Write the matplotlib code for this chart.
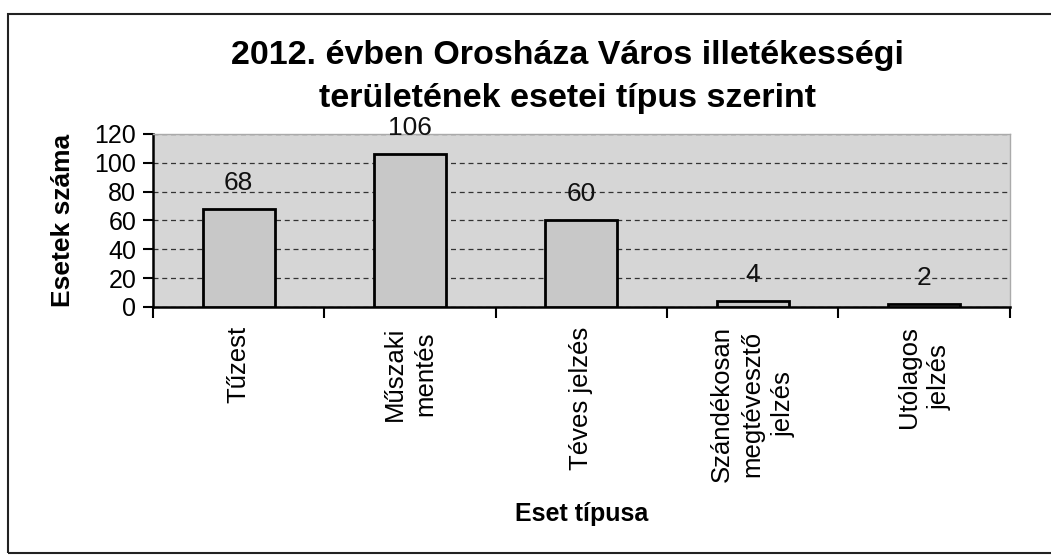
import matplotlib.pyplot as plt
from matplotlib.patches import Rectangle

plt.rcParams['font.family'] = ['Liberation Sans', 'DejaVu Sans']

categories = ["Tűzest", "Műszaki\nmentés", "Téves jelzés",
              "Szándékosan\nmegtévesztő\njelzés", "Utólagos\njelzés"]
values = [68, 106, 60, 4, 2]
yticks = [0, 20, 40, 60, 80, 100, 120]

fig = plt.figure(figsize=(10.51, 5.58), dpi=100)
# outer frame of the chart
fig.patches.append(Rectangle((0.008, 0.009), 1.1, 0.966, transform=fig.transFigure,
                             fill=False, edgecolor='#222222', linewidth=1.5))

ax = fig.add_axes([0.1456, 0.45, 0.815, 0.31])
ax.set_facecolor('#d6d6d6')

x = list(range(len(values)))
bars = ax.bar(x, values, width=0.42, color='#c8c8c8', edgecolor='black', linewidth=2, zorder=3)

for xi, v in zip(x, values):
    ax.text(xi, v + 18, str(v), ha='center', va='center', fontsize=19, color='#111111', zorder=4)

ax.set_xlim(-0.5, len(values) - 0.5)
ax.set_ylim(0, 120)
ax.set_yticks(yticks)
ax.set_yticklabels([str(t) for t in yticks], fontsize=18)
ax.yaxis.grid(True, color='#333333', linestyle=(0, (4, 3)), linewidth=0.9, zorder=1)

ax.set_xticks(x)
ax.set_xticklabels(categories, rotation=90, fontsize=18.5, multialignment='center',
                   va='top', linespacing=1.35)
ax.set_xticks([i - 0.5 for i in range(len(values) + 1)], minor=True)
ax.tick_params(axis='x', which='major', length=0, pad=14)
ax.tick_params(axis='x', which='minor', length=8, width=1.5, direction='out')
ax.tick_params(axis='y', length=7, width=1.5, direction='out', pad=5)

for side in ['top', 'right']:
    ax.spines[side].set_color('#aaaaaa')
    ax.spines[side].set_linewidth(1)
ax.spines['left'].set_linewidth(1.8)
ax.spines['bottom'].set_linewidth(1.8)

ax.set_ylabel("Esetek száma", fontsize=19, fontweight='bold', labelpad=14)
ax.set_xlabel("Eset típusa", fontsize=18, fontweight='bold', labelpad=14)

fig.text(0.54, 0.862, "2012. évben Orosháza Város illetékességi\nterületének esetei típus szerint",
         ha='center', va='center', fontsize=24.5, fontweight='bold', linespacing=1.52)

fig.savefig("out.png", dpi=100)
